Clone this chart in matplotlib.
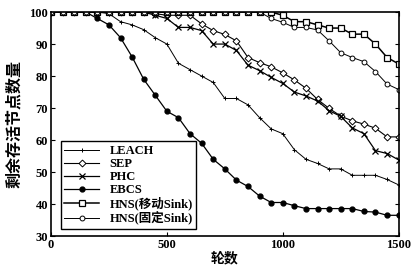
import matplotlib
matplotlib.use("Agg")
import matplotlib.pyplot as plt
import numpy as np

# rounds, one marker every 50
rounds = np.arange(0, 1501, 50)

leach = [100, 100, 100, 100, 100, 99.5, 97, 96, 94.5, 92, 90, 84, 82, 80, 78, 73,
         73, 71, 67, 63.5, 62, 57, 54, 52.7, 51, 51, 49, 49, 49, 47.7, 46]
sep = [100, 100, 100, 100, 100, 100, 100, 100, 100, 99.5, 99, 99, 99, 96.3, 94.2, 93,
       91, 85.8, 84.2, 82.9, 81, 78.8, 76.2, 72.7, 69.9, 67.5, 66, 65, 63.7, 61, 61]
phc = [100, 100, 100, 100, 100, 100, 100, 100, 100, 99, 98, 95.2, 95.2, 94.2, 90, 90,
       88, 83.4, 81.7, 79.6, 77.7, 75, 73.8, 72.2, 69.2, 67.4, 63.8, 62, 56.7, 55.8, 53.8]
ebcs = [100, 100, 100, 100, 98, 96, 92, 86, 79, 74, 69, 67, 62, 59, 54, 51,
        47.5, 45.5, 42.5, 40.5, 40.5, 39.5, 38.6, 38.6, 38.6, 38.6, 38.6, 37.7, 37.5, 36.5, 36.5]
hns_mobile = [100] * 19 + [100, 99, 97, 97, 96, 95, 95, 93.1, 93.1, 90, 85.8, 83.8]
hns_fixed = [100] * 19 + [98, 96.8, 95.2, 95.2, 94.4, 91, 87.3, 85.8, 84.5, 81.4, 77.5, 75.8]

names = ["LEACH", "SEP", "PHC", "EBCS", "HNS(移动Sink)", "HNS(固定Sink)"]

plt.rcParams['font.family'] = ['Liberation Serif', 'Noto Sans CJK SC']
plt.rcParams['font.weight'] = 'bold'

fig = plt.figure(figsize=(4.11, 2.68), dpi=100)
ax = fig.add_axes([0.124, 0.119, 0.846, 0.836])

ax.plot(rounds, leach, color='black', lw=0.7, marker='+', ms=3.5, mew=0.7, label=names[0])
ax.plot(rounds, sep, color='black', lw=0.8, marker='D', ms=3.5, mfc='white', mew=0.7, label=names[1])
ax.plot(rounds, phc, color='black', lw=0.9, marker='x', ms=4, mew=0.9, label=names[2])
ax.plot(rounds, ebcs, color='black', lw=0.9, marker='o', ms=3.5, label=names[3])
ax.plot(rounds, hns_mobile, color='black', lw=1.1, marker='s', ms=3.8, mfc='white', mew=0.9, label=names[4])
ax.plot(rounds, hns_fixed, color='black', lw=0.7, marker='o', ms=3.5, mfc='white', mew=0.7, label=names[5])

ax.set_xlim(0, 1500)
ax.set_ylim(30, 100)
ax.set_xticks([0, 500, 1000, 1500])
ax.set_yticks(range(30, 101, 10))
ax.tick_params(direction='in', top=True, right=True, labelsize=9, length=3, pad=2)
for s in ax.spines.values():
    s.set_linewidth(1.2)

ax.set_xlabel("轮数", fontsize=10, fontweight='bold', family='Noto Sans CJK SC', labelpad=0)
ax.set_ylabel("剩余存活节点数量", fontsize=11.5, fontweight='bold', family='Noto Sans CJK SC', labelpad=5)

leg = ax.legend(loc='lower left', bbox_to_anchor=(0.028, 0.031), borderaxespad=0, labelspacing=0.08,
                handlelength=2.8, borderpad=0.3, fancybox=False, framealpha=1, edgecolor='black',
                prop={'family': ['Liberation Serif', 'Noto Sans CJK SC'], 'weight': 'bold', 'size': 9})
leg.get_frame().set_linewidth(1.0)

fig.savefig("out.png", dpi=100)
